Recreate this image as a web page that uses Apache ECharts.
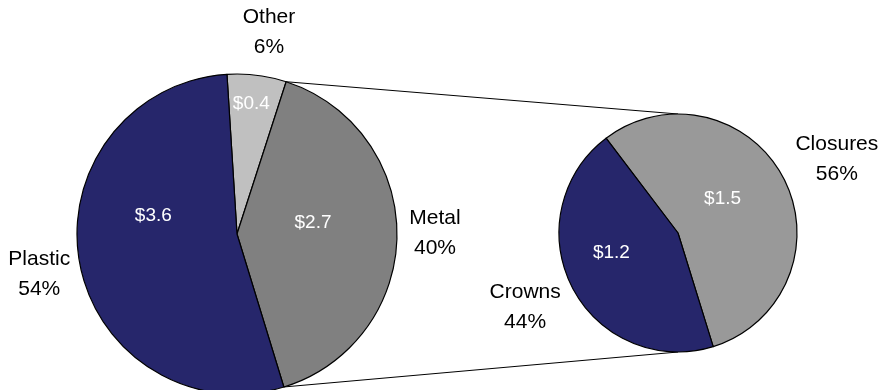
<!DOCTYPE html>
<html><head><meta charset="utf-8">
<script src="https://cdn.jsdelivr.net/npm/echarts@6/dist/echarts.min.js"></script>
<style>html,body{margin:0;padding:0;background:#fff}#c{width:893px;height:390px}</style>
</head><body><div id="c"></div>
<script>
// ---- data ----
const mainCategories = ['Other', 'Metal', 'Plastic'];
const mainValues = [0.4, 2.7, 3.6];
const subCategories = ['Closures', 'Crowns'];
const subValues = [1.5, 1.2];

// ---- styling ----
const mainColors = ['#C0C0C0', '#808080', '#26266B'];
const subColors = ['#999999', '#26266B'];
const mainCenter = [237, 234], mainR = 160, mainStartFromTop = -3.6;
const subCenter = [678, 233], subR = 119, subStartFromTop = -37.2;
const mainInsideShift = [[4, -48], [-7, -12], [-2, -33]];
const subInsideShift = [[-11, -6], [-11, -9]];
const mainOutsideShift = [[7, -2], [-3, -2], [0, 4]];
const subOutsideShift = [[5, 5], [1, -5]];
const FONT = 'Liberation Sans, Arial, sans-serif';

function pt(c, r, degFromTop) {
  const a = degFromTop * Math.PI / 180;
  return [c[0] + r * Math.sin(a), c[1] - r * Math.cos(a)];
}
const sum = a => a.reduce((s, v) => s + v, 0);
const mainTotal = sum(mainValues);
const otherEnd = mainStartFromTop + 360 * mainValues[0] / mainTotal;
const metalEnd = mainStartFromTop + 360 * (mainValues[0] + mainValues[1]) / mainTotal;

function pieSeries(cats, vals, colors, center, r, startTop, shifts) {
  return {
    type: 'pie', center: center, radius: r, startAngle: 90 - startTop, clockwise: true,
    avoidLabelOverlap: false, silent: true, animation: false, z: 3,
    data: cats.map((n, i) => ({ name: n, value: vals[i], itemStyle: { color: colors[i] } })),
    itemStyle: { borderColor: '#000', borderWidth: 1.2 },
    label: { show: true, position: 'inside', color: '#fff', fontSize: 19, fontFamily: FONT,
      formatter: p => '$' + p.value.toFixed(1) },
    labelLine: { show: false },
    labelLayout: p => ({ dx: shifts[p.dataIndex][0], dy: shifts[p.dataIndex][1] })
  };
}
function ringSeries(cats, vals, center, r0, r1, startTop, shifts) {
  return {
    type: 'pie', center: center, radius: [r0, r1], startAngle: 90 - startTop, clockwise: true,
    avoidLabelOverlap: false, silent: true, animation: false, z: 1,
    data: cats.map((n, i) => ({ name: n, value: vals[i] })),
    itemStyle: { color: 'rgba(0,0,0,0)', borderWidth: 0 },
    label: { show: true, position: 'inside', color: '#000', fontSize: 21, lineHeight: 30,
      fontFamily: FONT, formatter: p => p.name + '\n' + Math.round(p.percent) + '%' },
    labelLine: { show: false },
    labelLayout: p => ({ dx: shifts[p.dataIndex][0], dy: shifts[p.dataIndex][1] })
  };
}

const p1 = pt(mainCenter, mainR, otherEnd);
const p2 = pt(mainCenter, mainR, metalEnd);

const chart = echarts.init(document.getElementById('c'), null, { renderer: 'canvas' });
chart.setOption({
  backgroundColor: '#fff',
  animation: false,
  graphic: [
    { type: 'line', z: 0, shape: { x1: p1[0], y1: p1[1], x2: subCenter[0], y2: subCenter[1] - subR },
      style: { stroke: '#000', lineWidth: 1 } },
    { type: 'line', z: 0, shape: { x1: p2[0], y1: p2[1], x2: subCenter[0], y2: subCenter[1] + subR },
      style: { stroke: '#000', lineWidth: 1 } }
  ],
  series: [
    ringSeries(mainCategories, mainValues, mainCenter, 181, 215, mainStartFromTop, mainOutsideShift),
    ringSeries(subCategories, subValues, subCenter, 153, 187, subStartFromTop, subOutsideShift),
    pieSeries(mainCategories, mainValues, mainColors, mainCenter, mainR, mainStartFromTop, mainInsideShift),
    pieSeries(subCategories, subValues, subColors, subCenter, subR, subStartFromTop, subInsideShift)
  ]
});
</script>
</body></html>
